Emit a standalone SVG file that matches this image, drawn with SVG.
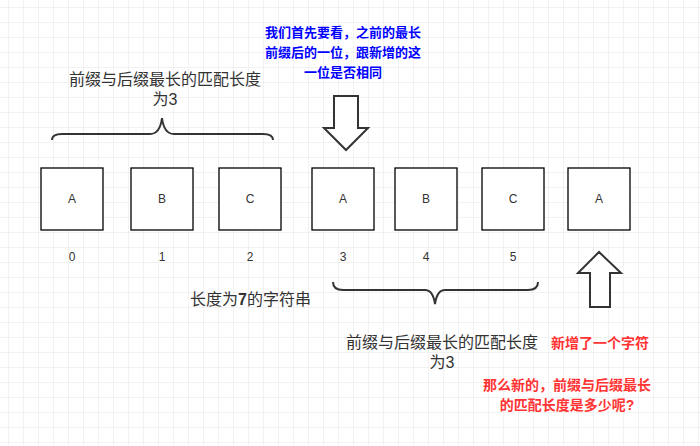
<svg xmlns="http://www.w3.org/2000/svg" width="700" height="446" viewBox="0 0 700 446">
<defs>
<pattern id="g" x="8" y="7" width="15" height="15" patternUnits="userSpaceOnUse"><path d="M0 0H15M0 0V15" fill="none" stroke="#e6e6e6" stroke-width="1"/></pattern>
<style>
.b{fill:#fff;stroke:#000;stroke-width:1.3}
.t{font-family:"Liberation Sans","Noto Sans CJK SC",sans-serif;font-size:12px;fill:#333;text-anchor:middle}
.l{font-family:"Liberation Sans","Noto Sans CJK SC",sans-serif;font-size:16px;fill:#333;text-anchor:middle}
.bl{font-family:"Liberation Sans","Noto Sans CJK SC",sans-serif;font-size:13px;font-weight:bold;fill:#0000ff;text-anchor:middle}
.r{font-family:"Liberation Sans","Noto Sans CJK SC",sans-serif;font-size:14px;font-weight:bold;fill:#ff3333;text-anchor:middle}
.br{fill:none;stroke:#333;stroke-width:2}
.ar{fill:#fff;stroke:#333;stroke-width:2}
</style>
</defs>
<rect width="700" height="446" fill="#fff"/>
<rect width="700" height="446" fill="url(#g)"/>
<g id="nodes">
<g id="n0"><rect class="b" x="41" y="168" width="62" height="62"/><text class="t" x="72" y="203">A</text><text class="t" x="72" y="261">0</text></g>
<g id="n1"><rect class="b" x="131" y="168" width="62" height="62"/><text class="t" x="162" y="203">B</text><text class="t" x="162" y="261">1</text></g>
<g id="n2"><rect class="b" x="219" y="168" width="62" height="62"/><text class="t" x="250" y="203">C</text><text class="t" x="250" y="261">2</text></g>
<g id="n3"><rect class="b" x="312" y="168" width="62" height="62"/><text class="t" x="343" y="203">A</text><text class="t" x="343" y="261">3</text></g>
<g id="n4"><rect class="b" x="395" y="168" width="62" height="62"/><text class="t" x="426" y="203">B</text><text class="t" x="426" y="261">4</text></g>
<g id="n5"><rect class="b" x="482" y="168" width="62" height="62"/><text class="t" x="513" y="203">C</text><text class="t" x="513" y="261">5</text></g>
<g id="n6"><rect class="b" x="568" y="168" width="62" height="62"/><text class="t" x="599" y="203">A</text></g>
</g>
<g id="connectors">
<path class="br" d="M52 140Q52 134 62 134H150Q160 134 162 118Q164 134 174 134H263Q273 134 273 140"/>
<path class="br" d="M333 282Q333 290 343 290H425Q433 290 435 304Q437 290 445 290H528Q538 290 538 282"/>
<path class="ar" d="M334 96H358V128H368L346 150L324 128H334Z"/>
<path class="ar" d="M590 307H610V273H621L599 252L578 273H590Z"/>
</g>
<g id="labels">
<text class="l" x="165" y="85">前缀与后缀最长的匹配长度</text>
<text class="l" x="165" y="105">为3</text>
<text class="l" x="442" y="348">前缀与后缀最长的匹配长度</text>
<text class="l" x="442" y="368">为3</text>
<text class="l" x="190" y="305" style="text-anchor:start">长度为<tspan font-weight="bold">7</tspan>的字符串</text>
<text class="bl" x="343" y="37">我们首先要看，之前的最长</text>
<text class="bl" x="343" y="57">前缀后的一位，跟新增的这</text>
<text class="bl" x="343" y="77">一位是否相同</text>
<text class="r" x="600" y="348">新增了一个字符</text>
<text class="r" x="567" y="390">那么新的，前缀与后缀最长</text>
<text class="r" x="567" y="410">的匹配长度是多少呢?</text>
</g>
</svg>
